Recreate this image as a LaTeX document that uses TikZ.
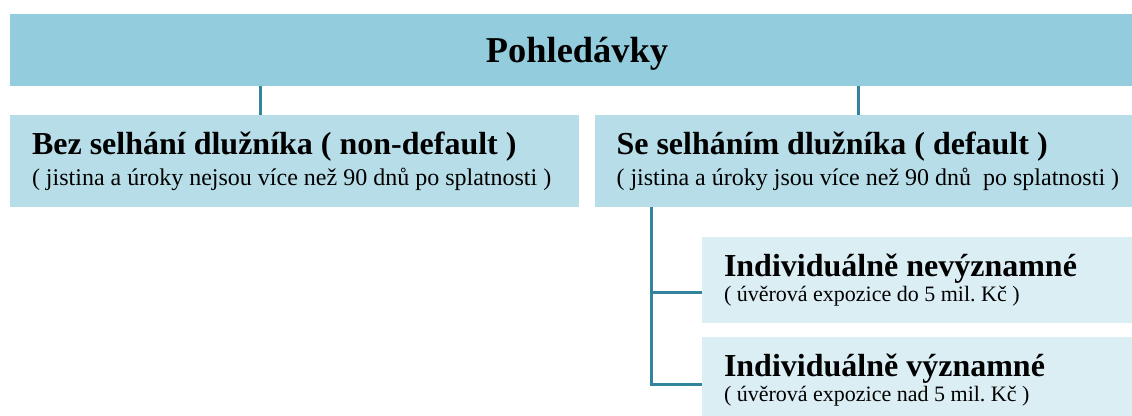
\documentclass[tikz,border=0pt]{standalone}
\usepackage{fontspec}
\setmainfont{Liberation Serif}
\usepackage{xcolor}
\usepackage{tikz}
\usetikzlibrary{positioning,calc}
\frenchspacing

\definecolor{barblue}{RGB}{147,205,221}
\definecolor{boxblue}{RGB}{183,222,232}
\definecolor{subblue}{RGB}{219,238,244}
\definecolor{linkteal}{RGB}{49,132,155}

\tikzset{
    topbar/.style={fill=barblue, minimum width=1134*0.75pt, minimum height=72*0.75pt, inner sep=0pt, text depth=0pt, font=\fontsize{27.3}{30}\selectfont\bfseries},
    catbox/.style={fill=boxblue, minimum height=92*0.75pt, text width=525*0.75pt, inner xsep=22*0.75pt, inner ysep=0pt, align=left, font=\fontsize{18}{23}\selectfont},
    subbox/.style={fill=subblue, minimum height=86*0.75pt, text width=417*0.75pt, inner xsep=22*0.75pt, inner ysep=0pt, align=left, font=\fontsize{16.5}{18.75}\selectfont},
    link/.style={draw=linkteal, line width=3*0.75pt},
}
\newcommand{\cattitle}[1]{\mbox{\fontsize{24}{23}\selectfont\bfseries\spaceskip=0pt #1}}
\newcommand{\subtitle}[1]{\mbox{\fontsize{24}{18.75}\selectfont\bfseries\spaceskip=0pt #1}}
\newcommand{\note}[1]{\mbox{\spaceskip=0pt #1}}

\begin{document}
\begin{tikzpicture}[x=0.75pt, y=-0.75pt]
    \useasboundingbox (0,0) rectangle (1132,416);
    \clip (0,0) rectangle (1132,416);
    \node[topbar] (top) at (577,50) {Pohledávky};
    \node[catbox] (nd) at (294.5,161) {\cattitle{Bez selhání dlužníka ( non-default )}\\\note{( jistina a úroky nejsou více než 90 dnů po splatnosti )}};
    \node[catbox, right=15*0.75pt of nd] (df) {\cattitle{Se selháním dlužníka ( default )}\\\note{( jistina a úroky jsou více než 90 dnů~ po splatnosti )}};
    \node[subbox] (inv) at (932.5,280) {\subtitle{Individuálně nevýznamné}\\\note{( úvěrová expozice do 5 mil. Kč )}};
    \node[subbox] (vyz) at (932.5,380) {\subtitle{Individuálně významné}\\\note{( úvěrová expozice nad 5 mil. Kč )}};
    \coordinate (c1) at (260,0);
    \coordinate (c2) at (858,0);
    \coordinate (b1) at (651,293);
    \coordinate (b2) at (651,385);
    \draw[link] (top.south -| c1) -- (nd.north -| c1);
    \draw[link] (top.south -| c2) -- (df.north -| c2);
    \draw[link] (df.south -| b1) -- (b2) -- (b2 -| vyz.west);
    \draw[link] (b1) -- (b1 -| inv.west);
\end{tikzpicture}
\end{document}
